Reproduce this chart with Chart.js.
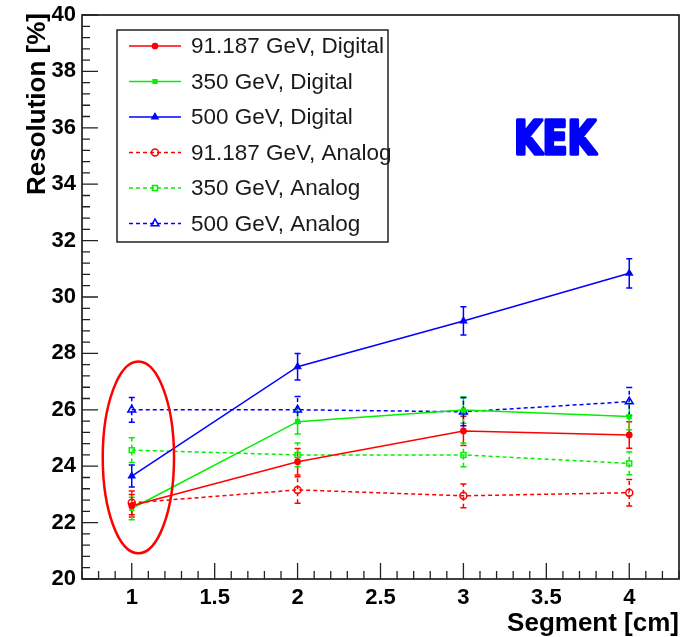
<!DOCTYPE html>
<html>
<head>
<meta charset="utf-8">
<script src="https://cdn.jsdelivr.net/npm/chart.js@4/dist/chart.umd.min.js"></script>
<style>
  html, body { margin: 0; padding: 0; background: #fff; }
  #wrap { width: 681px; height: 637px; }
</style>
</head>
<body>
<div id="wrap"><canvas id="c" width="681" height="637"></canvas></div>
<script>
// Segment sizes [cm]
const segments = [1, 2, 3, 4];

// Energy resolution [%] and errors, digital readout
const digital91 = [22.6, 24.16, 25.25, 25.11];
const digital91Err = [0.40, 0.47, 0.52, 0.47];
const digital350 = [22.5, 25.58, 25.99, 25.76];
const digital350Err = [0.40, 0.44, 0.47, 0.47];
const digital500 = [23.65, 27.53, 29.15, 30.84];
const digital500Err = [0.39, 0.47, 0.50, 0.52];

// Energy resolution [%] and errors, analog readout
const analog91 = [22.7, 23.16, 22.95, 23.06];
const analog91Err = [0.42, 0.47, 0.42, 0.47];
const analog350 = [24.57, 24.4, 24.4, 24.1];
const analog350Err = [0.44, 0.42, 0.42, 0.40];
const analog500 = [26.0, 26.0, 25.93, 26.29];
const analog500Err = [0.44, 0.47, 0.50, 0.50];

const seriesLabels = [
  '91.187 GeV, Digital', '350 GeV, Digital', '500 GeV, Digital',
  '91.187 GeV, Analog', '350 GeV, Analog', '500 GeV, Analog'
];

// Axis tick labels
const xTickValues = [1, 1.5, 2, 2.5, 3, 3.5, 4];
const yTickValues = [20, 22, 24, 26, 28, 30, 32, 34, 36, 38, 40];

// Highlight around the 1 cm points (data units)
const highlight = { x: 1.04, y: 24.31, rx: 0.215, ry: 3.4 };

const RED = '#ff0000', GREEN = '#00f000', BLUE = '#0000ff';
const DASH = [4, 3];

function series(label, values, errors, color, style, analog) {
  return {
    label,
    data: segments.map((x, i) => ({ x, y: values[i] })),
    errors,
    borderColor: color,
    backgroundColor: color,
    borderWidth: 1.5,
    borderDash: analog ? DASH : [],
    pointStyle: style,
    pointRadius: analog ? (style === 'triangle' ? 4.5 : 3.5) : (style === 'triangle' ? 3.5 : 2.6),
    pointBorderWidth: 1.5,
    pointBorderColor: color,
    pointBackgroundColor: analog ? 'rgba(255,255,255,0)' : color,
    tension: 0,
    fill: false
  };
}

const datasets = [
  series(seriesLabels[0], digital91, digital91Err, RED, 'circle', false),
  series(seriesLabels[1], digital350, digital350Err, GREEN, 'rect', false),
  series(seriesLabels[2], digital500, digital500Err, BLUE, 'triangle', false),
  series(seriesLabels[3], analog91, analog91Err, RED, 'circle', true),
  series(seriesLabels[4], analog350, analog350Err, GREEN, 'rect', true),
  series(seriesLabels[5], analog500, analog500Err, BLUE, 'triangle', true)
];

const FONT = '"Liberation Sans", Arial, sans-serif';

// Vertical error bars with small caps
const errorBars = {
  id: 'errorBars',
  beforeDatasetsDraw(chart) {
    const { ctx, scales: { x, y } } = chart;
    ctx.save();
    chart.data.datasets.forEach(ds => {
      ctx.strokeStyle = ds.borderColor;
      ctx.lineWidth = 1.5;
      ctx.setLineDash(ds.borderDash);
      ds.data.forEach((p, i) => {
        const e = ds.errors[i];
        const px = x.getPixelForValue(p.x);
        const y1 = y.getPixelForValue(p.y - e);
        const y2 = y.getPixelForValue(p.y + e);
        ctx.beginPath();
        ctx.moveTo(px, y1); ctx.lineTo(px, y2);
        ctx.stroke();
        ctx.setLineDash([]);
        ctx.beginPath();
        ctx.moveTo(px - 3, y1); ctx.lineTo(px + 3, y1);
        ctx.moveTo(px - 3, y2); ctx.lineTo(px + 3, y2);
        ctx.stroke();
        ctx.setLineDash(ds.borderDash);
      });
    });
    ctx.restore();
  }
};

// Frame, inward ticks, axis titles, legend box, ellipse and label
const decorations = {
  id: 'decorations',
  afterDatasetsDraw(chart) {
    const { ctx, chartArea: a, scales: { x, y } } = chart;
    ctx.save();

    // highlight ellipse
    const cx = x.getPixelForValue(highlight.x);
    const cy = y.getPixelForValue(highlight.y);
    const rx = Math.abs(x.getPixelForValue(highlight.x + highlight.rx) - cx);
    const ry = Math.abs(y.getPixelForValue(highlight.y + highlight.ry) - cy);
    ctx.strokeStyle = RED;
    ctx.lineWidth = 2.5;
    ctx.beginPath();
    ctx.ellipse(cx, cy, rx, ry, 0, 0, Math.PI * 2);
    ctx.stroke();

    // frame
    ctx.strokeStyle = '#111';
    ctx.lineWidth = 1.6;
    ctx.strokeRect(a.left, a.top, a.right - a.left, a.bottom - a.top);

    // x ticks (major every 0.5, minor every 0.1)
    ctx.lineWidth = 1.3;
    ctx.strokeStyle = '#222';
    ctx.beginPath();
    for (let k = 7; k <= 43; k++) {
      const v = k / 10;
      const px = x.getPixelForValue(v);
      const len = (k % 5 === 0) ? 16 : 8;
      ctx.moveTo(px, a.bottom); ctx.lineTo(px, a.bottom - len);
    }
    // y ticks (major every 2, minor every 0.4)
    for (let k = 0; k <= 50; k++) {
      const v = 20 + k * 0.4;
      const py = y.getPixelForValue(v);
      const len = (k % 5 === 0) ? 16 : 8;
      ctx.moveTo(a.left, py); ctx.lineTo(a.left + len, py);
    }
    ctx.stroke();

    // axis titles
    ctx.fillStyle = '#000';
    ctx.font = 'bold 26px ' + FONT;
    ctx.textAlign = 'right';
    ctx.textBaseline = 'alphabetic';
    ctx.fillText('Segment [cm]', 679, 631);
    ctx.save();
    ctx.translate(45, 13);
    ctx.rotate(-Math.PI / 2);
    ctx.textAlign = 'right';
    ctx.fillText('Resolution [%]', 0, 0);
    ctx.restore();

    // legend
    ctx.fillStyle = '#fff';
    ctx.fillRect(117, 30, 271, 212);
    ctx.strokeStyle = '#222';
    ctx.lineWidth = 1.5;
    ctx.strokeRect(117, 30, 271, 212);
    chart.data.datasets.forEach((ds, i) => {
      const ry0 = 46 + i * 35.5;
      ctx.strokeStyle = ds.borderColor;
      ctx.lineWidth = 1.5;
      ctx.setLineDash(ds.borderDash);
      ctx.beginPath();
      ctx.moveTo(129, ry0); ctx.lineTo(181, ry0);
      ctx.stroke();
      ctx.setLineDash([]);
      ctx.fillStyle = ds.pointBackgroundColor;
      Chart.helpers.drawPoint(ctx, {
        pointStyle: ds.pointStyle, radius: ds.pointRadius,
        borderWidth: ds.pointBorderWidth, rotation: 0
      }, 155, ry0);
      ctx.fillStyle = '#1a1a1a';
      ctx.font = '22.5px ' + FONT;
      ctx.textAlign = 'left';
      ctx.textBaseline = 'middle';
      ctx.fillText(ds.label, 191, ry0 + 1);
    });

    // KEK label
    ctx.save();
    ctx.translate(555, 154);
    ctx.scale(0.78, 1);
    ctx.font = 'bold 47px "DejaVu Sans", sans-serif';
    ctx.textAlign = 'center';
    ctx.textBaseline = 'alphabetic';
    ctx.fillStyle = BLUE;
    ctx.strokeStyle = BLUE;
    ctx.lineJoin = 'round';
    ctx.lineWidth = 3.5;
    ctx.fillText('KEK', 0, 0);
    ctx.strokeText('KEK', 0, 0);
    ctx.restore();

    ctx.restore();
  }
};

new Chart(document.getElementById('c'), {
  type: 'line',
  data: { datasets },
  options: {
    responsive: false,
    devicePixelRatio: 1,
    animation: false,
    layout: { autoPadding: false, padding: { top: 15, right: 2, left: 0, bottom: 0 } },
    plugins: { legend: { display: false }, tooltip: { enabled: false } },
    scales: {
      x: {
        type: 'linear', min: 0.7, max: 4.3,
        afterBuildTicks: s => { s.ticks = xTickValues.map(v => ({ value: v })); },
        afterFit: s => { s.height = 58; s.paddingLeft = 0; s.paddingRight = 0; },
        grid: { display: false, drawTicks: false },
        border: { display: false },
        ticks: {
          autoSkip: false, maxRotation: 0, padding: 6, color: '#000',
          font: { family: FONT, size: 22, weight: 'bold' },
          callback: v => String(v)
        }
      },
      y: {
        type: 'linear', min: 20, max: 40,
        afterBuildTicks: s => { s.ticks = yTickValues.map(v => ({ value: v })); },
        afterFit: s => { s.width = 82; s.paddingTop = 0; s.paddingBottom = 0; },
        grid: { display: false, drawTicks: false },
        border: { display: false },
        ticks: {
          autoSkip: false, padding: 6, color: '#000',
          font: { family: FONT, size: 22, weight: 'bold' },
          callback: v => String(v)
        }
      }
    }
  },
  plugins: [errorBars, decorations]
});
</script>
</body>
</html>
